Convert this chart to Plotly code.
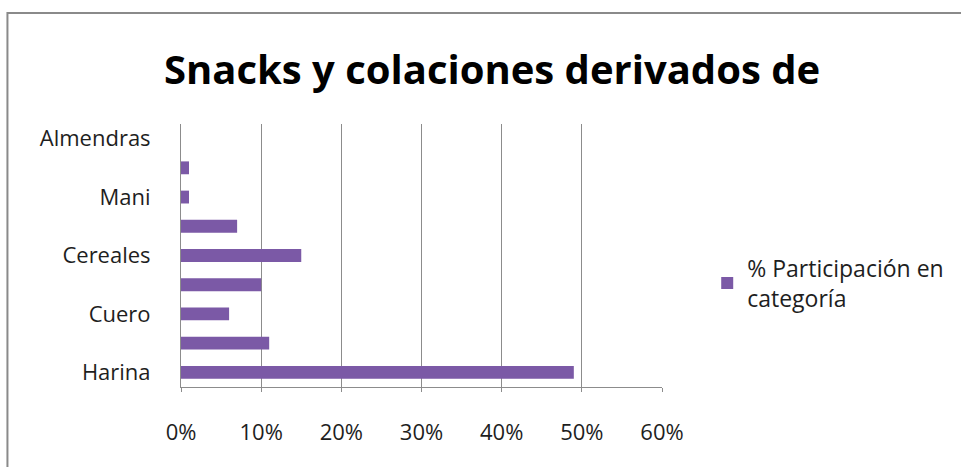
import plotly.graph_objects as go

categories = ["Harina", "Papa", "Cuero", "Maíz", "Cereales", "Frutas", "Mani", "Semillas", "Almendras"]
shown_labels = ["Harina", "Cuero", "Cereales", "Mani", "Almendras"]
values = [0.49, 0.11, 0.06, 0.10, 0.15, 0.07, 0.01, 0.01, 0.0]
series_name = "% Participación en<br>categoría"
title_text = "Snacks y colaciones derivados de"
x_ticks = [0, 0.1, 0.2, 0.3, 0.4, 0.5, 0.6]

FONT = "Open Sans"
GRID = "#8c8c8c"
TXT = "#1e1e1e"

fig = go.Figure()
fig.add_trace(go.Bar(
    y=categories, x=values, orientation="h", name=series_name,
    marker=dict(color="#7B59A6", line=dict(width=0)),
    showlegend=True,
))

fig.update_layout(
    width=961, height=467,
    margin=dict(l=181, r=295, t=124, b=80),
    paper_bgcolor="white", plot_bgcolor="white",
    bargap=0.56,
    title=dict(text=title_text, x=0.512, xanchor="center", y=0.85, yanchor="middle",
               font=dict(family=FONT, size=40, color="black", weight="bold")),
    font=dict(family=FONT, size=22, color=TXT),
    showlegend=True,
    legend=dict(x=1.094, y=0.395, xanchor="left", yanchor="middle",
                font=dict(family=FONT, size=23, color=TXT),
                bgcolor="rgba(0,0,0,0)"),
    xaxis=dict(range=[0, 0.6], tickvals=x_ticks, tickformat=".0%",
               showgrid=True, gridcolor=GRID, gridwidth=1,
               showline=True, linecolor=GRID, linewidth=1, mirror=False,
               ticks="outside", ticklen=4, tickcolor=GRID,
               ticklabelstandoff=22, zeroline=False,
               tickfont=dict(family=FONT, size=22, color=TXT)),
    yaxis=dict(categoryorder="array", categoryarray=categories,
               tickmode="array", tickvals=shown_labels, ticktext=shown_labels,
               showline=True, linecolor=GRID, linewidth=1,
               showgrid=False, ticks="", ticklabelstandoff=25,
               tickfont=dict(family=FONT, size=22, color=TXT)),
)

fig.add_shape(type="rect", xref="paper", yref="paper",
              x0=(6 - 181) / 485, x1=(970 - 181) / 485,
              y0=(387 - 475) / 263, y1=(387 - 13) / 263,
              line=dict(color="#8a8a8a", width=2), fillcolor="rgba(0,0,0,0)", layer="below")

fig.write_html("out.html")
